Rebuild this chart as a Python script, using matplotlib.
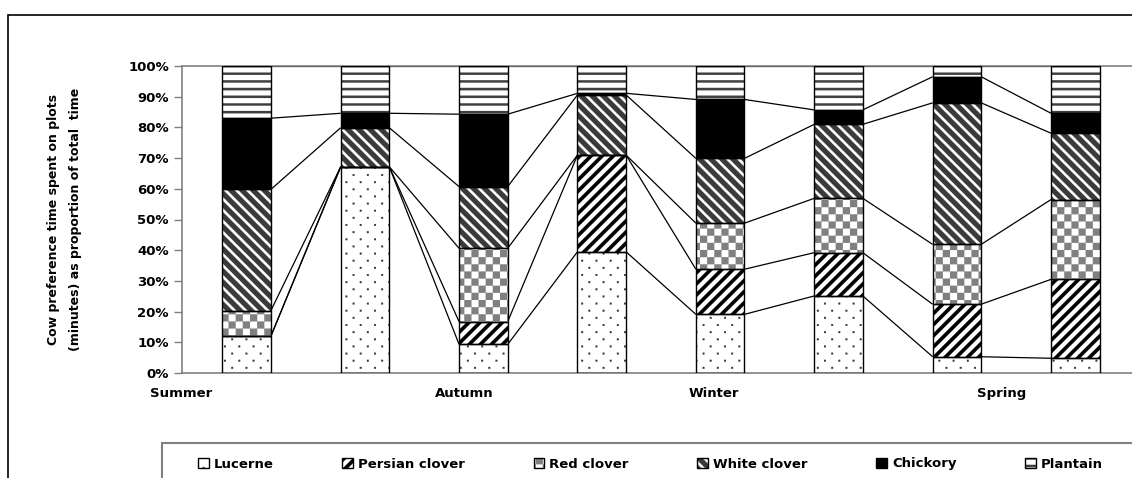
import numpy as np
import matplotlib
matplotlib.use("Agg")
import matplotlib.pyplot as plt
import matplotlib.hatch as mhatch
from matplotlib.path import Path
from matplotlib.patches import Rectangle, Patch
from matplotlib.legend_handler import HandlerTuple

# ---------------- data ----------------
season_labels = ["Summer", "Autumn", "Winter", "Spring"]
series_names = ["Lucerne", "Persian clover", "Red clover", "White clover", "Chickory", "Plantain"]
lucerne = [12.0, 67.2, 9.3, 39.5, 19.1, 25.1, 5.3, 4.8]
persian = [0.0, 0.0, 7.4, 31.5, 14.7, 14.1, 17.1, 25.7]
red = [8.3, 0.0, 23.9, 0.0, 15.0, 17.7, 19.5, 26.0]
white = [39.5, 12.7, 20.1, 19.6, 21.1, 24.1, 46.1, 21.6]
chickory = [23.2, 4.7, 23.6, 0.5, 19.2, 4.7, 8.5, 6.5]
plantain = [17.0, 15.4, 15.7, 8.9, 10.9, 14.3, 3.5, 15.4]
yticks = [0, 10, 20, 30, 40, 50, 60, 70, 80, 90, 100]

# ---------------- layout / style ----------------
W, H = 1132, 478
season_label_pos = [-0.55, 1.84, 3.95, 6.38]
bar_w = 0.41
styles = [  # facecolor, hatch colour, hatch
    ("white", "#303030", "."),
    ("white", "black", "/"),
    ("white", "#808080", "O"),
    ("#3a3a3a", "white", "\\"),
    ("black", "black", ""),
    ("white", "#404040", "-"),
]

# ---------------- custom filled hatch textures ----------------
def _poly_hatch(char, polys):
    polys = [np.asarray(p, float) for p in polys]

    class _H(mhatch.HatchPatternBase):
        def __init__(self, hatch, density):
            on = char in hatch
            self.num_vertices = sum(len(p) + 1 for p in polys) if on else 0

        def set_vertices_and_codes(self, vertices, codes):
            i = 0
            for p in polys:
                n = len(p)
                vertices[i:i + n] = p
                vertices[i + n] = p[0]
                codes[i] = Path.MOVETO
                codes[i + 1:i + n] = Path.LINETO
                codes[i + n] = Path.CLOSEPOLY
                i += n + 1
    return _H

y0, y1 = -0.05, 1.05
k = 9
ne = []
for c in range(-k - 2, k + 2):
    a, b = c / k, (c + 0.45) / k
    ne.append([(a + y0, y0), (b + y0, y0), (b + y1, y1), (a + y1, y1)])
se = []
for c in range(0, 2 * k + 3):
    a, b = c / k, (c + 0.32) / k
    se.append([(a - y0, y0), (b - y0, y0), (b - y1, y1), (a - y1, y1)])
m = 13
hz = []
for c in range(m):
    a = c / m + 0.02
    hz.append([(y0, a), (y1, a), (y1, a + 0.024), (y0, a + 0.024)])
n = 14
chk = []
for i in range(n):
    for j in range(n):
        if (i + j) % 2 == 0:
            chk.append([(i / n, j / n), ((i + 1) / n, j / n), ((i + 1) / n, (j + 1) / n), (i / n, (j + 1) / n)])
dots = []
d = 0.009
for r in range(14):
    yy = (r + 0.5) / 14
    for cidx in range(7):
        xx = (cidx + 0.5 * (r % 2) + 0.25) / 7
        dots.append([(xx - d, yy - d), (xx + d, yy - d), (xx + d, yy + d), (xx - d, yy + d)])

mhatch._hatch_types = [
    _poly_hatch("/", ne),
    _poly_hatch("\\", se),
    _poly_hatch("-", hz),
    _poly_hatch("O", chk),
    _poly_hatch(".", dots),
]
plt.rcParams["hatch.linewidth"] = 0.1
plt.rcParams["font.family"] = ["DejaVu Sans"]
plt.rcParams["font.weight"] = "bold"

# ---------------- figure ----------------
fig = plt.figure(figsize=(W / 100, H / 100), dpi=100)
ax = fig.add_axes([181.5 / W, 1 - 373 / H, 953 / W, 307 / H])

series = [lucerne, persian, red, white, chickory, plantain]
x = np.arange(len(lucerne))
bottom = np.zeros(len(x))
tops = []
for vals, (fc, hc, hatch) in zip(series, styles):
    vals = np.asarray(vals, float)
    ax.bar(x, vals, bar_w, bottom=bottom, color=fc, edgecolor=hc, hatch=hatch, linewidth=0, zorder=2)
    ax.bar(x, vals, bar_w, bottom=bottom, fill=False, edgecolor="black", linewidth=1.0, zorder=3)
    bottom = bottom + vals
    tops.append(bottom.copy())

# series lines
for cum in tops:
    for i in range(len(x) - 1):
        ax.plot([x[i] + bar_w / 2, x[i + 1] - bar_w / 2], [cum[i], cum[i + 1]],
                color="black", lw=0.9, zorder=1, solid_capstyle="butt")

ax.set_xlim(-0.5, len(x) - 0.5)
ax.set_ylim(0, 100)
ax.set_yticks(yticks)
ax.set_yticklabels([f"{t}%" for t in yticks])
ax.set_xticks(season_label_pos)
ax.set_xticklabels(season_labels)
ax.tick_params(axis="y", labelsize=9.5, length=6, width=1, color="#808080", pad=3)
ax.tick_params(axis="x", labelsize=9.5, length=0, pad=10)
for s in ["left", "bottom", "top"]:
    ax.spines[s].set_color("#808080")
    ax.spines[s].set_linewidth(1.2)
ax.spines["right"].set_visible(False)

fig.text(65 / W, 1 - 219.5 / H,
         "Cow preference time spent on plots\n(minutes) as proportion of total  time",
         rotation=90, ha="center", va="center", fontsize=9, linespacing=1.9)

# outer chart frame and legend frame
fig.add_artist(Rectangle((8 / W, -0.05), 1.1, 1 - 15 / H + 0.05, transform=fig.transFigure,
                         fill=False, edgecolor="black", lw=1.2, clip_on=False))
fig.add_artist(Rectangle((162 / W, -0.05), 1.1, 1 - 443 / H + 0.05, transform=fig.transFigure,
                         fill=False, edgecolor="#808080", lw=1.5, clip_on=False))

handles = []
for fc, hc, hatch in styles:
    h1 = Patch(facecolor=fc, edgecolor=hc, hatch=hatch, linewidth=0)
    h2 = Patch(fill=False, edgecolor="black", linewidth=1.0)
    handles.append((h1, h2))
fig.legend(handles, series_names, handler_map={tuple: HandlerTuple(ndivide=1, pad=0)},
           loc="center left", bbox_to_anchor=(198 / W, 1 - 464 / H), ncol=6, frameon=False,
           borderaxespad=0, borderpad=0, handlelength=0.8, handleheight=0.8,
           handletextpad=0.4, columnspacing=5.2, fontsize=9.5)

fig.savefig("out.png", dpi=100)
